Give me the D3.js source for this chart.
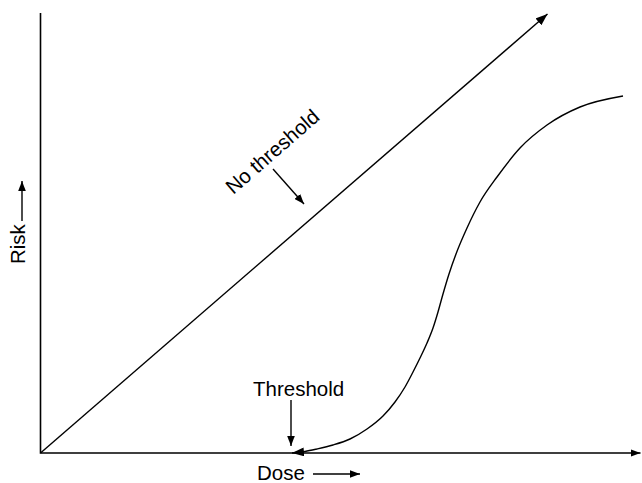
<!DOCTYPE html>
<html>
<head>
<meta charset="utf-8">
<script src="https://cdn.jsdelivr.net/npm/d3@7/dist/d3.min.js"></script>
<style>
  html, body { margin: 0; padding: 0; background: #fff; }
  svg { display: block; }
  text { font-family: "Liberation Sans", Arial, Helvetica, sans-serif; fill: #000; }
</style>
</head>
<body>
<svg id="chart" width="642" height="483"></svg>
<script>
// ---- data (dose / risk in arbitrary units) ----
const noThresholdDose = [0, 507];
const noThresholdRisk = [0, 439];
const thresholdDose = [251.5, 264.5, 276.5, 292.5, 309.5, 326.5, 342.5, 354.5, 364.5, 372.5, 379.5, 386.5, 392.5, 397.5, 402.5, 408.5, 415.5, 426.5, 439.5, 456.5, 479.5, 506.5, 539.5, 582.5];
const thresholdRisk = [0, 1.5, 4, 8, 14, 24, 37, 51, 66, 81, 95, 110, 125, 141, 159, 179, 199, 225, 251, 276, 305, 328, 346, 357];
const axisLabels = { x: "Dose", y: "Risk" };
const annotations = ["No threshold", "Threshold"];

const svg = d3.select("#chart");
const x = d3.scaleLinear().domain([0, 600]).range([40.5, 640.5]);
const y = d3.scaleLinear().domain([0, 440]).range([453, 13]);

const defs = svg.append("defs");
function marker(id, len, half) {
  defs.append("marker")
    .attr("id", id)
    .attr("markerUnits", "userSpaceOnUse")
    .attr("viewBox", `0 ${-half} ${len} ${2 * half}`)
    .attr("refX", len).attr("refY", 0)
    .attr("markerWidth", len).attr("markerHeight", 2 * half)
    .attr("orient", "auto-start-reverse")
    .append("path")
    .attr("d", `M0,${-half}L${len},0L0,${half}Z`)
    .attr("fill", "#000");
}
marker("arrowBig", 12, 4.5);
marker("arrowSmall", 10, 3.8);

const line = d3.line().x(d => x(d[0])).y(d => y(d[1]));

// axes (no ticks)
svg.append("path")
  .attr("d", line([[0, 440], [0, 0], [600, 0]]))
  .attr("fill", "none").attr("stroke", "#000").attr("stroke-width", 1.6)
  .attr("marker-end", "url(#arrowSmall)");

// No-threshold line
svg.append("path")
  .attr("d", line(noThresholdDose.map((d, i) => [d, noThresholdRisk[i]])))
  .attr("fill", "none").attr("stroke", "#000").attr("stroke-width", 1.4)
  .attr("marker-end", "url(#arrowBig)");

// Threshold (sigmoid) curve
const sig = d3.line().curve(d3.curveMonotoneX).x(d => x(d[0])).y(d => y(d[1]));
svg.append("path")
  .attr("d", sig(thresholdDose.map((d, i) => [d, thresholdRisk[i]])))
  .attr("fill", "none").attr("stroke", "#000").attr("stroke-width", 1.4)
  .attr("marker-start", "url(#arrowBig)");

// annotation arrows
function arrow(x1, y1, x2, y2) {
  svg.append("line")
    .attr("x1", x1).attr("y1", y1).attr("x2", x2).attr("y2", y2)
    .attr("stroke", "#000").attr("stroke-width", 1.4)
    .attr("marker-end", "url(#arrowSmall)");
}
// Threshold label
svg.append("text").attr("x", 253).attr("y", 396)
  .attr("font-size", 20.5).text(annotations[1]);
arrow(291, 400, 291, 446);

// No threshold label
svg.append("text")
  .attr("transform", "translate(277,157) rotate(-41)")
  .attr("text-anchor", "middle")
  .attr("font-size", 20.5).text(annotations[0]);
arrow(273, 169, 304, 204);

// Dose label
svg.append("text").attr("x", 257).attr("y", 480)
  .attr("font-size", 20.5).text(axisLabels.x);
arrow(313, 474, 360, 474);

// Risk label
svg.append("text")
  .attr("transform", "translate(24.5,264) rotate(-90)")
  .attr("font-size", 20.5).text(axisLabels.y);
arrow(22, 221, 22, 181);
</script>
</body>
</html>
